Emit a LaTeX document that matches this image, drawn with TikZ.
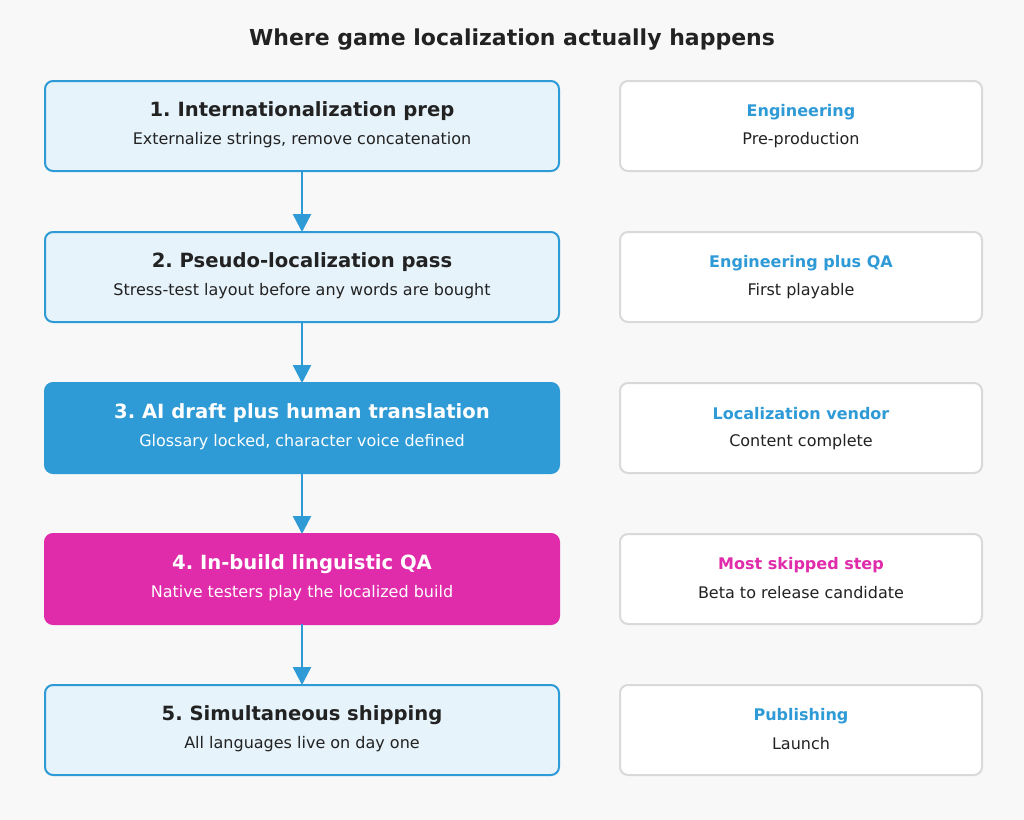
\documentclass[tikz,border=0pt]{standalone}
\usepackage{fontspec}
\setmainfont{DejaVu Sans}
\frenchspacing
\usetikzlibrary{positioning,arrows.meta}
\definecolor{flowblue}{HTML}{2E9AD6}
\definecolor{paleblue}{HTML}{E6F3FB}
\definecolor{hotpink}{HTML}{E02BAA}
\definecolor{inkgray}{HTML}{222222}
\definecolor{edgegray}{HTML}{D9D9D9}
\definecolor{bggray}{HTML}{F8F8F8}
\begin{document}
\begin{tikzpicture}
            [x=0.5pt, y=-0.5pt, font=\fontsize{8}{9.5}\selectfont,
            node distance=30.5pt and 30.5pt,
            stage/.style={rectangle, rounded corners=4pt, line width=1pt, outer sep=0pt,
            draw=flowblue, fill=paleblue, minimum width=257pt, minimum height=45pt},
            hot/.style={stage, draw=hotpink, fill=hotpink},
            deep/.style={stage, fill=flowblue},
            side/.style={rectangle, rounded corners=4pt, line width=1pt, outer sep=0pt,
            draw=edgegray, fill=white, minimum width=181pt, minimum height=45pt},
            head/.style={font=\fontsize{9.8}{11}\selectfont\bfseries, text=inkgray},
            sub/.style={text=inkgray},
            tag/.style={font=\fontsize{8}{9.5}\selectfont\bfseries, text=flowblue},
            flow/.style={draw=flowblue, line width=1.2pt, -{Triangle[length=9pt,width=9pt]}}]
            \fill[bggray] (0,0) rectangle (1024,820);
            \node[font=\fontsize{11}{13}\selectfont\bfseries, text=inkgray] (title) at (512,40) {Where game localization actually happens};
            % left column
            \node[stage, anchor=north west] (s1) at (45,81) {};
            \node[stage, below=of s1] (s2) {};
            \node[deep, below=of s2] (s3) {};
            \node[hot, below=of s3] (s4) {};
            \node[stage, below=of s4] (s5) {};
            % right column
            \node[side, right=of s1] (r1) {};
            \node[side, right=of s2] (r2) {};
            \node[side, right=of s3] (r3) {};
            \node[side, right=of s4] (r4) {};
            \node[side, right=of s5] (r5) {};
            % texts
            \node[head] at ([yshift=7.5pt]s1.center) {1. Internationalization prep};
            \node[sub] at ([yshift=-7pt]s1.center) {Externalize strings, remove concatenation};
            \node[head] at ([yshift=7.5pt]s2.center) {2. Pseudo-localization pass};
            \node[sub] at ([yshift=-7pt]s2.center) {Stress-test layout before any words are bought};
            \node[head, text=white] at ([yshift=7.5pt]s3.center) {3. AI draft plus human translation};
            \node[sub, text=white] at ([yshift=-7pt]s3.center) {Glossary locked, character voice defined};
            \node[head, text=white] at ([yshift=7.5pt]s4.center) {4. In-build linguistic QA};
            \node[sub, text=white] at ([yshift=-7pt]s4.center) {Native testers play the localized build};
            \node[head] at ([yshift=7.5pt]s5.center) {5. Simultaneous shipping};
            \node[sub] at ([yshift=-7pt]s5.center) {All languages live on day one};
            \node[tag] at ([yshift=7pt]r1.center) {Engineering};
            \node[sub] at ([yshift=-7pt]r1.center) {Pre-production};
            \node[tag] at ([yshift=7pt]r2.center) {Engineering plus QA};
            \node[sub] at ([yshift=-7pt]r2.center) {First playable};
            \node[tag] at ([yshift=7pt]r3.center) {Localization vendor};
            \node[sub] at ([yshift=-7pt]r3.center) {Content complete};
            \node[tag, text=hotpink] at ([yshift=7pt]r4.center) {Most skipped step};
            \node[sub] at ([yshift=-7pt]r4.center) {Beta to release candidate};
            \node[tag] at ([yshift=7pt]r5.center) {Publishing};
            \node[sub] at ([yshift=-7pt]r5.center) {Launch};
            % arrows
            \foreach \a/\b in {s1/s2,s2/s3,s3/s4,s4/s5}
                \draw[flow] (\a.south) -- (\b.north);
\end{tikzpicture}
\end{document}
